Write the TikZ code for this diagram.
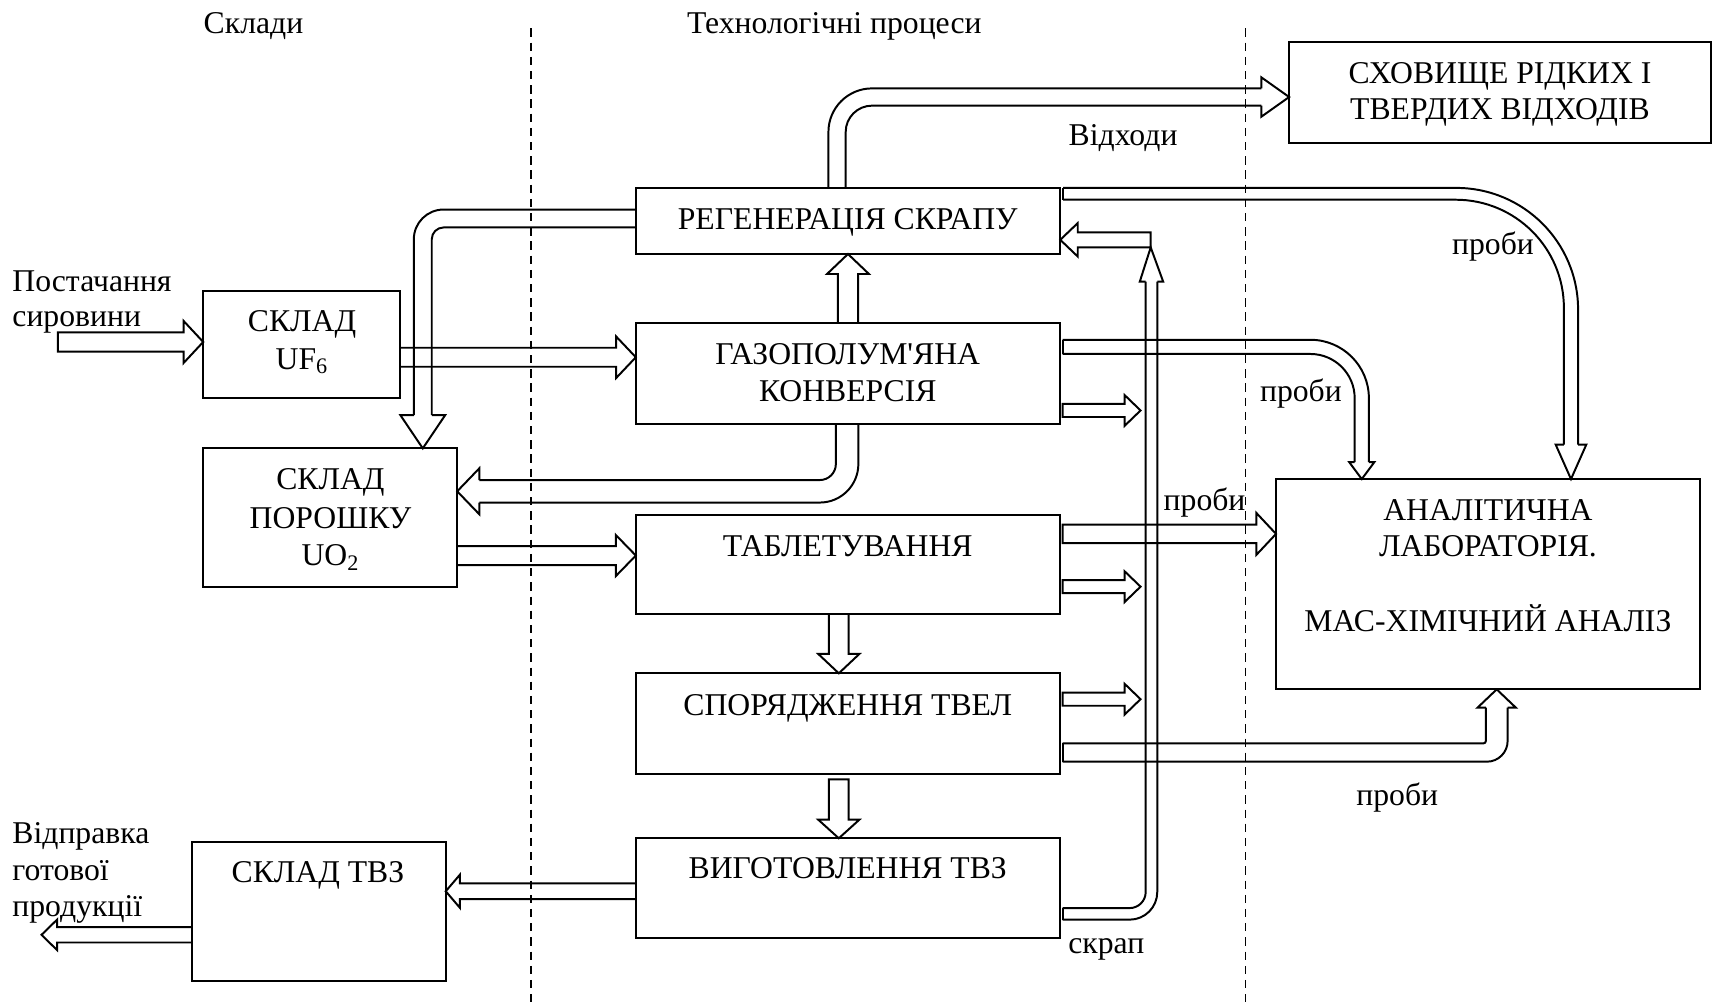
\documentclass[tikz,border=0pt]{standalone}
\usepackage{fontspec}
\setmainfont{Liberation Serif}
\usetikzlibrary{calc,fit}

\tikzset{
  box/.style={draw, line width=0.9pt, inner sep=0pt, outer sep=0pt},
  arr/.style={line width=0.9pt, line join=miter, line cap=square},
  lbl/.style={inner sep=0pt, anchor=base},
  lblw/.style={inner sep=0pt, anchor=base west},
  sep/.style={line width=0.6pt, dash pattern=on 3.8pt off 2.7pt},
}

% Hollow block arrow from named point #1 to tip #2.
% #3 direction (0 right, 90 up, 180 left, 270 down), #4 half shaft width,
% #5 half head width, #6 head length (picture units), #7 optional "-- cycle" to close the tail
\newcommand\blockarrow[7]{%
  \draw[arr, shift={(#2)}, rotate=#3]
    let \p1=($(#2)-(#1)$), \n1={veclen(\x1,\y1)} in
    ({-\n1*1pt},{#4*0.5pt}) -- ({-#6*0.5pt},{#4*0.5pt}) -- ({-#6*0.5pt},{#5*0.5pt}) -- (0pt,0pt)
    -- ({-#6*0.5pt},{-#5*0.5pt}) -- ({-#6*0.5pt},{-#4*0.5pt}) -- ({-\n1*1pt},{-#4*0.5pt}) #7;}

\begin{document}
\begin{tikzpicture}[x=0.5pt, y=-0.5pt, font=\fontsize{14.5}{17}\selectfont]
\useasboundingbox (0,0) rectangle (1568,918);

% ---------- zone separators ----------
\draw[sep] (486,26) -- (486,918);
\draw[sep] (1140,26) -- (1140,918);

\node[lbl] (hdrA) at (232,30.5) {Склади};
\node[lbl] (hdrB) at (763.7,30.5) {Технологічні процеси};

% ---------- boxes ----------
\node[box, fit={(186,266) (366,364)}] (uf6) {};
\node[box, fit={(186,410.4) (418.5,537.5)}] (uo2) {};
\node[box, fit={(175.5,770.4) (408,898)}] (tvz) {};
\node[box, fit={(582,172) (970.5,232.5)}] (reg) {};
\node[box, fit={(582,296) (970,387.8)}] (gaz) {};
\node[box, fit={(582,471.4) (970,562)}] (tabl) {};
\node[box, fit={(582,616.3) (970,708.3)}] (spor) {};
\node[box, fit={(582,767.3) (970,858.9)}] (vyg) {};
\node[box, fit={(1180,38) (1566,131)}] (shov) {};
\node[box, fit={(1168,438.5) (1556,631)}] (anal) {};

% ---------- box captions ----------
\node[lbl] (uf6a) at (276.5,303.6) {СКЛАД};
\node[lbl] (uf6b) at (276.5,338) {UF\textsubscript{6}};
\node[lbl] (uo2a) at (302.5,448) {СКЛАД};
\node[lbl] (uo2b) at (302.5,483.6) {ПОРОШКУ};
\node[lbl] (uo2c) at (302.5,518) {UO\textsubscript{2}};
\node[lbl] (tvza) at (291,807.8) {СКЛАД ТВЗ};
\node[lbl] (rega) at (776,210) {РЕГЕНЕРАЦІЯ СКРАПУ};
\node[lbl] (gaza) at (776,333.5) {ГАЗОПОЛУМ\textquotesingle ЯНА};
\node[lbl] (gazb) at (776,367.7) {КОНВЕРСІЯ};
\node[lbl] (tabla) at (776,509) {ТАБЛЕТУВАННЯ};
\node[lbl] (spora) at (776,654.5) {СПОРЯДЖЕННЯ ТВЕЛ};
\node[lbl] (vyga) at (776,804) {ВИГОТОВЛЕННЯ ТВЗ};
\node[lbl] (shova) at (1373,76.6) {СХОВИЩЕ РІДКИХ І};
\node[lbl] (shovb) at (1373,109.6) {ТВЕРДИХ ВІДХОДІВ};
\node[lbl] (anala) at (1362,476) {АНАЛІТИЧНА};
\node[lbl] (analb) at (1362,509.4) {ЛАБОРАТОРІЯ.};
\node[lbl] (analc) at (1362,578.2) {МАС-ХІМІЧНИЙ АНАЛІЗ};

% ---------- free labels ----------
\node[lblw] (inA) at (11,267) {Постачання};
\node[lblw] (inB) at (11,299) {сировини};
\node[lblw] (outA) at (11,772) {Відправка};
\node[lblw] (outB) at (11,805.5) {готової};
\node[lblw] (outC) at (11,839) {продукції};
\node[lbl] (waste) at (1028,133) {Відходи};
\node[lbl] (prA) at (1366.6,233.4) {проби};
\node[lbl] (prB) at (1190.8,367.9) {проби};
\node[lbl] (prC) at (1102.6,467.5) {проби};
\node[lbl] (prD) at (1279,737) {проби};
\node[lbl] (scrap) at (1012.6,873.2) {скрап};

% ---------- straight flows ----------
\coordinate (supS) at (53,313);
\coordinate (supT) at (uf6.west |- 0,313);
\blockarrow{supS}{supT}{0}{8.8}{19.3}{18}{-- cycle}

\coordinate (ugS) at (uf6.east |- 0,327);
\coordinate (ugT) at (gaz.west |- 0,327);
\blockarrow{ugS}{ugT}{0}{8.7}{19}{18}{}

\coordinate (utS) at (uo2.east |- 0,508.5);
\coordinate (utT) at (tabl.west |- 0,508.5);
\blockarrow{utS}{utT}{0}{8.7}{18.8}{18.3}{}

\coordinate (grS) at (gaz.north -| 776.2,0);
\coordinate (grT) at (reg.south -| 776.2,0);
\blockarrow{grS}{grT}{90}{9.2}{19.2}{18.3}{}

\coordinate (tsS) at (tabl.south -| 767.8,0);
\coordinate (tsT) at (spor.north -| 767.8,0);
\blockarrow{tsS}{tsT}{270}{9}{18.8}{17.7}{}

\coordinate (svS) at ($(spor.south -| 767.8,0)+(0,5.1)$);
\coordinate (svT) at (vyg.north -| 767.8,0);
\blockarrow{svS}{svT}{270}{9}{18.8}{17}{-- cycle}

\coordinate (srS) at (1053.3,219.5);
\coordinate (srT) at (reg.east |- 0,219.5);
\blockarrow{srS}{srT}{180}{6.9}{15.3}{16}{-- cycle}

\coordinate (stAS) at ($(gaz.east |- 0,375.7)+(2.7,0)$);
\coordinate (stAT) at (1044,375.7);
\blockarrow{stAS}{stAT}{0}{6}{14}{14.5}{-- cycle}

\coordinate (stBS) at ($(tabl.east |- 0,537)+(2.7,0)$);
\coordinate (stBT) at (1044,537);
\blockarrow{stBS}{stBT}{0}{6}{14}{14.5}{-- cycle}

\coordinate (stCS) at ($(spor.east |- 0,640)+(2.7,0)$);
\coordinate (stCT) at (1044,640);
\blockarrow{stCS}{stCT}{0}{6}{14}{14.5}{-- cycle}

\coordinate (taS) at ($(tabl.east |- 0,488.7)+(2.7,0)$);
\coordinate (taT) at (anal.west |- 0,488.7);
\blockarrow{taS}{taT}{0}{8.5}{19.2}{18}{-- cycle}

\coordinate (vtS) at (vyg.west |- 0,815.8);
\coordinate (vtT) at (tvz.east |- 0,815.8);
\blockarrow{vtS}{vtT}{180}{7.2}{15.2}{13}{}

\coordinate (toS) at (tvz.west |- 0,855.7);
\coordinate (toT) at (38,855.7);
\blockarrow{toS}{toT}{180}{7}{14}{14.3}{}

% ---------- bent flows ----------
% regeneration -> UO2 store
\draw[arr, rounded corners=13.6pt] (reg.west |- 0,191.8) -- (378.8,191.8) -- (378.8,380);
\draw[arr, rounded corners=5.4pt] (reg.west |- 0,208.2) -- (395.2,208.2) -- (395.2,380);
\draw[arr] (378.8,380) -- (366.5,380) -- (uo2.north -| 387,0) -- (407.5,380) -- (395.2,380);

% conversion -> UO2 store
\draw[arr, rounded corners=17.65pt] (gaz.south -| 785.7,0) -- (785.7,460) -- (438.7,460);
\draw[arr, rounded corners=7.35pt] (gaz.south -| 765.1,0) -- (765.1,439.4) -- (438.7,439.4);
\draw[arr] (438.7,439.4) -- (438.7,428.7) -- (uo2.east |- 0,449.7) -- (438.7,470.7) -- (438.7,460);

% regeneration -> waste storage
\draw[arr, rounded corners=19.95pt] (reg.north -| 758.3,0) -- (758.3,80.9) -- (1154.6,80.9);
\draw[arr, rounded corners=12.05pt] (reg.north -| 774.1,0) -- (774.1,96.7) -- (1154.6,96.7);
\draw[arr] (1154.6,80.9) -- (1154.6,70.8) -- (shov.west |- 0,88.8) -- (1154.6,106.8) -- (1154.6,96.7);

% scrap return riser
\coordinate (scA) at ($(vyg.east |- 0,831.2)+(2.7,0)$);
\coordinate (scB) at ($(vyg.east |- 0,841.8)+(2.7,0)$);
\draw[arr] (scA) -- (scB);
\draw[arr, rounded corners=12.65pt] (scB) -- (1059.3,841.8) -- (1059.3,257.8);
\draw[arr, rounded corners=7.35pt] (scA) -- (1048.7,831.2) -- (1048.7,257.8);
\draw[arr] (1048.7,257.8) -- (1043.3,257.8) -- (srS |- 0,226.4) -- (1064.7,257.8) -- (1059.3,257.8);

% samples: regeneration -> laboratory
\coordinate (p1A) at ($(reg.east |- 0,172)+(2.7,0)$);
\coordinate (p1B) at ($(reg.east |- 0,182.8)+(2.7,0)$);
\draw[arr] (p1A) -- (p1B);
\draw[arr, rounded corners=55.75pt] (p1A) -- (1444.5,172) -- (1444.5,407);
\draw[arr, rounded corners=49.5pt] (p1B) -- (1431.5,182.8) -- (1431.5,407);
\draw[arr] (1431.5,407) -- (1424,407) -- (anal.north -| 1438,0) -- (1452,407) -- (1444.5,407);

% samples: conversion -> laboratory
\coordinate (p2A) at ($(gaz.east |- 0,311)+(2.7,0)$);
\coordinate (p2B) at ($(gaz.east |- 0,324)+(2.7,0)$);
\draw[arr] (p2A) -- (p2B);
\draw[arr, rounded corners=26.75pt] (p2A) -- (1253,311) -- (1253,423);
\draw[arr, rounded corners=20.25pt] (p2B) -- (1240,324) -- (1240,423);
\draw[arr] (1240,423) -- (1235,423) -- (anal.north -| 1246.5,0) -- (1258,423) -- (1253,423);

% samples: fuel rods -> laboratory
\coordinate (p3A) at ($(spor.east |- 0,680.4)+(2.7,0)$);
\coordinate (p3B) at ($(spor.east |- 0,697.2)+(2.7,0)$);
\draw[arr] (p3A) -- (p3B);
\draw[arr, rounded corners=9.5pt] (p3B) -- (1380,697.2) -- (1380,647.7);
\draw[arr, rounded corners=1pt] (p3A) -- (1360,680.4) -- (1360,647.7);
\draw[arr] (1360,647.7) -- (1352.5,647.7) -- (anal.south -| 1370,0) -- (1387.5,647.7) -- (1380,647.7);
\end{tikzpicture}
\end{document}
